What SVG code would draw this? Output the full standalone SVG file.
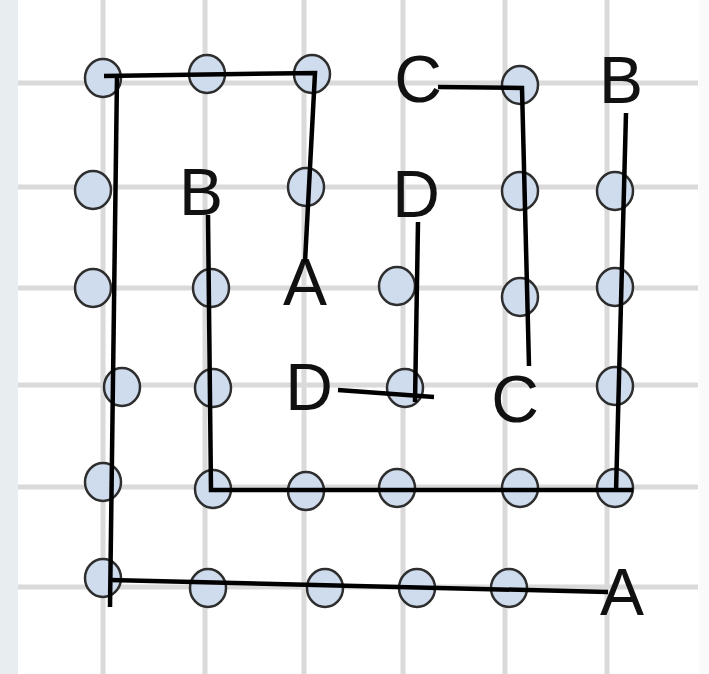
<svg xmlns="http://www.w3.org/2000/svg" width="709" height="674" viewBox="0 0 709 674">
<style>
.grid{stroke:#dadada;stroke-width:5;fill:none}
.dot{fill:#cfdced;stroke:#2e2e2e;stroke-width:2.5}
.ln{stroke:#000;stroke-width:4.5;fill:none;stroke-linecap:butt;stroke-linejoin:miter}
.lbl{font-family:"Liberation Sans",Arial,sans-serif;font-size:66px;fill:#111;text-anchor:middle}
</style>
<rect x="0" y="0" width="709" height="674" fill="#ffffff"/>
<rect x="0" y="0" width="18" height="674" fill="#e8edef"/>
<rect x="699" y="0" width="10" height="674" fill="#fafafa"/>
<g id="grid" class="grid">
<line x1="103" y1="0" x2="103" y2="674"/>
<line x1="205" y1="0" x2="205" y2="674"/>
<line x1="304" y1="0" x2="304" y2="674"/>
<line x1="403" y1="0" x2="403" y2="674"/>
<line x1="505" y1="0" x2="505" y2="674"/>
<line x1="607" y1="0" x2="607" y2="674"/>
<line x1="18" y1="83" x2="698" y2="83"/>
<line x1="18" y1="187" x2="698" y2="187"/>
<line x1="18" y1="288" x2="698" y2="288"/>
<line x1="18" y1="385" x2="698" y2="385"/>
<line x1="18" y1="487" x2="698" y2="487"/>
<line x1="18" y1="587" x2="698" y2="587"/>
</g>
<g id="dots">
<g id="n1"><ellipse class="dot" cx="103" cy="78" rx="18" ry="19"/></g>
<g id="n2"><ellipse class="dot" cx="207" cy="74" rx="18" ry="19"/></g>
<g id="n3"><ellipse class="dot" cx="312" cy="74" rx="18" ry="19"/></g>
<g id="n4"><ellipse class="dot" cx="520" cy="85" rx="18" ry="19"/></g>
<g id="n5"><ellipse class="dot" cx="93" cy="190" rx="18" ry="19"/></g>
<g id="n6"><ellipse class="dot" cx="306" cy="187" rx="18" ry="19"/></g>
<g id="n7"><ellipse class="dot" cx="520" cy="191" rx="18" ry="19"/></g>
<g id="n8"><ellipse class="dot" cx="615" cy="191" rx="18" ry="19"/></g>
<g id="n9"><ellipse class="dot" cx="93" cy="288" rx="18" ry="19"/></g>
<g id="n10"><ellipse class="dot" cx="211" cy="288" rx="18" ry="19"/></g>
<g id="n11"><ellipse class="dot" cx="397" cy="286" rx="18" ry="19"/></g>
<g id="n12"><ellipse class="dot" cx="520" cy="297" rx="18" ry="19"/></g>
<g id="n13"><ellipse class="dot" cx="615" cy="287" rx="18" ry="19"/></g>
<g id="n14"><ellipse class="dot" cx="122" cy="387" rx="18" ry="19"/></g>
<g id="n15"><ellipse class="dot" cx="213" cy="388" rx="18" ry="19"/></g>
<g id="n16"><ellipse class="dot" cx="405" cy="388" rx="18" ry="19"/></g>
<g id="n17"><ellipse class="dot" cx="615" cy="386" rx="18" ry="19"/></g>
<g id="n18"><ellipse class="dot" cx="103" cy="482" rx="18" ry="19"/></g>
<g id="n19"><ellipse class="dot" cx="213" cy="489" rx="18" ry="19"/></g>
<g id="n20"><ellipse class="dot" cx="306" cy="491" rx="18" ry="19"/></g>
<g id="n21"><ellipse class="dot" cx="397" cy="488" rx="18" ry="19"/></g>
<g id="n22"><ellipse class="dot" cx="520" cy="488" rx="18" ry="19"/></g>
<g id="n23"><ellipse class="dot" cx="615" cy="488" rx="18" ry="19"/></g>
<g id="n24"><ellipse class="dot" cx="103" cy="578" rx="18" ry="19"/></g>
<g id="n25"><ellipse class="dot" cx="208" cy="588" rx="18" ry="19"/></g>
<g id="n26"><ellipse class="dot" cx="325" cy="588" rx="18" ry="19"/></g>
<g id="n27"><ellipse class="dot" cx="417" cy="588" rx="18" ry="19"/></g>
<g id="n28"><ellipse class="dot" cx="509" cy="588" rx="18" ry="19"/></g>
</g>
<g id="labels">
<g id="lblB1"><text class="lbl" x="201" y="215">B</text></g>
<g id="lblA1"><text class="lbl" x="305" y="305">A</text></g>
<g id="lblC1"><text class="lbl" x="418" y="102">C</text></g>
<g id="lblB2"><text class="lbl" x="621" y="103">B</text></g>
<g id="lblD1"><text class="lbl" x="416" y="217">D</text></g>
<g id="lblD2"><text class="lbl" x="309" y="410">D</text></g>
<g id="lblC2"><text class="lbl" x="515" y="422">C</text></g>
<g id="lblA2"><text class="lbl" x="622" y="615">A</text></g>
</g>
<g id="connectors" class="ln">
<polyline points="104,76 315,73 305,262"/>
<polyline points="117,76 110,607"/>
<polyline points="110,580 608,592"/>
<polyline points="208,215 211,490 633,490"/>
<polyline points="616,492 626,113"/>
<polyline points="438,87 522,88 529,366"/>
<polyline points="418,222 415,402"/>
<polyline points="338,390 434,397"/>
</g>
</svg>
